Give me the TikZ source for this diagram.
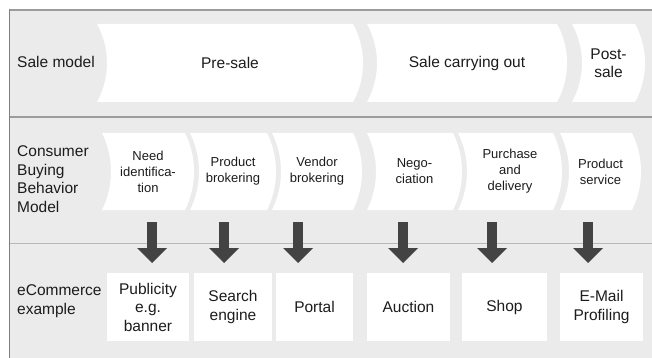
\documentclass[tikz,border=0pt]{standalone}
\usepackage{fontspec}
\setmainfont{Liberation Sans}
\usetikzlibrary{arrows.meta}

\definecolor{panel}{HTML}{EBEBEB}
\definecolor{ruledark}{HTML}{9C9C9C}
\definecolor{rulelight}{HTML}{B8B8B8}
\definecolor{edge}{HTML}{808080}
\definecolor{ink}{HTML}{1C1C1C}
\definecolor{arrowgray}{HTML}{434343}

\pgfdeclarelayer{bg}
\pgfsetlayers{bg,main}

% white chevron with a concave left side and a convex right side,
% both nearly circular arcs; #1 = node, #2 = depth of the curves in pt
\newcommand\chevfill[2]{%
  \fill[white] (#1.north west) -- ([xshift={-#2pt}]#1.north east)
    .. controls ([xshift={#2pt/3},yshift=-24pt]#1.north east)
       and ([xshift={#2pt/3},yshift=24pt]#1.south east)
    .. ([xshift={-#2pt}]#1.south east)
    -- (#1.south west)
    .. controls ([xshift={4*#2pt/3},yshift=24pt]#1.south west)
       and ([xshift={4*#2pt/3},yshift=-24pt]#1.north west)
    .. (#1.north west) -- cycle;}

\begin{document}
\begin{tikzpicture}[x=1pt,y=-1pt,
  span/.style n args={4}{minimum width={#2-#1}, minimum height={#4-#3},
    at={({(#1+#2)/2},{(#3+#4)/2})}},
  bigtext/.style={font=\fontsize{15.5}{18.5}\selectfont, text=ink},
  phase/.style={bigtext, inner sep=0pt, outer sep=0pt, align=center},
  stage/.style={font=\fontsize{13}{16}\selectfont, text=ink,
    inner sep=0pt, outer sep=0pt, align=center},
  exbox/.style={bigtext, fill=white, inner sep=0pt, outer sep=0pt, align=center},
  rowlabel/.style={bigtext, anchor=west, align=left, inner sep=0pt},
  bigarrow/.style={draw=arrowgray, line width=10pt,
    -{Triangle[width=30pt,length=15pt,line width=0pt,fill=arrowgray]}}]

\useasboundingbox (0,0) rectangle (652,358);

% row labels
\node[rowlabel] (lsale) at (17,62) {Sale model};
\node[rowlabel] (lcbb) at (17,179) {Consumer\\Buying\\Behavior\\Model};
\node[rowlabel] (lecom) at (17,301) {eCommerce\\example};

% sale model phases
\node[phase, span={97}{363}{24}{102}] (pre) {Pre-sale};
\node[phase, span={367}{567}{24}{102}] (during) {Sale carrying out};
\node[phase, span={572}{645}{24}{102}] (post) {Post-\\sale};

% consumer buying behaviour stages
\node[stage, span={102}{194}{133}{210}] (need) {Need\\identifica-\\tion};
\node[stage, span={190}{276}{133}{210}] (prod) {Product\\brokering};
\node[stage, span={272}{362}{133}{210}] (vend) {Vendor\\brokering};
\node[stage, span={367}{462}{133}{210}] (nego) {Nego-\\ciation};
\node[stage, span={458}{562}{133}{210}] (purch) {Purchase\\and\\delivery};
\node[stage, span={560}{641}{133}{210}] (serv) {Product\\service};

% eCommerce examples
\node[exbox, span={107}{189}{273}{341}] (pub) {Publicity\\e.g.\\banner};
\node[exbox, span={194}{272}{273}{341}] (search) {Search\\engine};
\node[exbox, span={276}{353}{273}{341}] (portal) {Portal};
\node[exbox, span={367}{450}{273}{341}] (auction) {Auction};
\node[exbox, span={462}{547}{273}{341}] (shop) {Shop};
\node[exbox, span={560}{643}{273}{341}] (mail) {E-Mail\\Profiling};

% arrow ends
\foreach \n/\x in {1/152, 2/224, 3/298, 4/403, 5/492, 6/588} {
  \coordinate (s\n) at (\x,222);
  \coordinate (e\n) at (\x,263);
}
\foreach \n in {1,...,6} \draw[bigarrow] (s\n) -- (e\n);

\begin{pgfonlayer}{bg}
  \fill[panel] (9,10) rectangle (652,358);
  \draw[ruledark, line width=2pt] (9,10) -- (652,10);
  \draw[ruledark, line width=2pt] (9,117) -- (652,117);
  \draw[rulelight, line width=1pt] (9,243) -- (652,243);
  \draw[edge, line width=1.2pt] (9.6,9) -- (9.6,358);
  \chevfill{pre}{10}
  \chevfill{during}{10}
  \chevfill{post}{10}
  \chevfill{need}{9}
  \chevfill{prod}{9}
  \chevfill{vend}{9}
  \chevfill{nego}{9}
  \chevfill{purch}{9}
  \chevfill{serv}{9}
\end{pgfonlayer}
\end{tikzpicture}
\end{document}
